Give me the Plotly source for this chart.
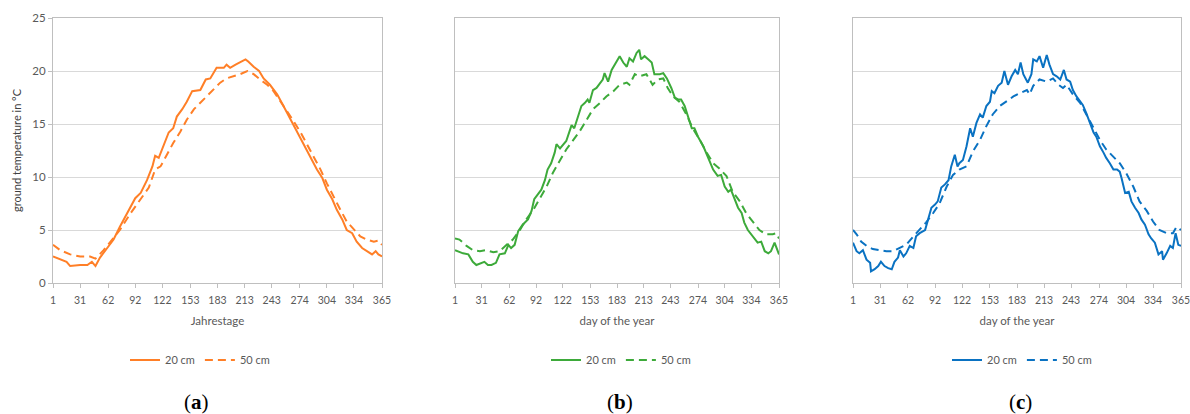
import plotly.graph_objects as go

# ---------------- data ----------------
days_a20 = [1,16,20,31,39,44,48,53,61,68,75,83,92,98,105,111,114,118,123,129,134,138,144,149,155,164,170,175,182,190,
            193,197,203,208,214,217,223,229,234,241,249,256,264,271,278,286,293,299,304,310,315,321,326,332,337,343,348,354,358,361,365]
temp_a20 = [2.5,2.0,1.6,1.7,1.7,2.0,1.6,2.4,3.3,4.1,5.3,6.6,8.0,8.5,9.7,11.0,12.0,11.8,12.9,14.2,14.6,15.7,16.4,17.1,18.1,18.2,19.2,19.3,20.3,20.3,
            20.6,20.3,20.6,20.8,21.1,20.9,20.4,20.0,19.3,18.7,17.8,16.7,15.4,14.3,13.2,11.9,10.7,9.9,8.8,7.9,6.9,6.0,5.0,4.7,3.9,3.3,3.0,2.7,3.0,2.7,2.5]

days_a50 = [1,9,20,31,42,48,57,64,75,87,98,107,114,120,127,134,142,149,157,164,171,179,186,193,201,208,216,223,230,238,
            245,253,260,267,275,282,289,297,304,311,319,326,334,341,348,356,361,365]
temp_a50 = [3.6,3.1,2.7,2.5,2.5,2.3,3.1,3.8,5.0,6.6,7.9,9.0,10.7,11.0,12.1,13.2,14.3,15.4,16.4,17.0,17.6,18.2,18.9,19.3,19.5,19.7,20.0,19.7,19.2,18.7,
            18.1,17.1,16.2,15.3,14.2,13.1,11.9,10.7,9.4,8.2,6.9,5.8,5.0,4.4,4.1,3.9,4.0,3.6]

days_b20 = [1,10,16,21,25,31,34,38,42,47,51,57,61,64,68,72,77,83,87,90,94,98,102,105,109,113,115,119,126,130,
            132,135,139,143,147,150,152,156,160,164,167,169,173,177,182,186,190,194,197,201,205,208,210,214,218,222,225,231,235,239,
            244,248,252,255,259,263,267,270,274,280,285,291,296,300,304,308,311,315,319,323,326,330,334,338,341,345,349,353,356,360,362,365]
temp_b20 = [3.1,2.8,2.7,2.0,1.7,1.9,2.0,1.7,1.7,1.9,2.7,2.8,3.6,3.3,3.6,4.9,5.5,6.0,6.8,7.9,8.3,8.8,9.7,10.7,11.3,12.3,13.1,12.7,13.4,14.3,
            14.9,14.6,15.6,16.7,17.0,17.3,17.0,18.2,18.4,18.9,19.2,19.8,19.0,20.1,20.8,21.4,20.8,20.4,21.2,20.9,21.7,22.0,21.1,21.4,21.1,20.8,19.7,19.7,19.8,19.3,
            18.4,17.5,17.3,17.3,16.7,15.7,14.6,14.6,13.8,12.9,11.9,10.7,10.1,10.2,9.1,8.6,8.8,7.9,7.1,6.6,5.7,5.0,4.6,4.1,3.8,3.9,3.0,2.8,3.0,3.8,3.3,2.7]

days_b50 = [1,6,14,21,29,36,44,51,59,66,74,81,89,96,104,111,119,126,134,141,149,156,164,171,179,186,194,197,203,208,
            216,223,229,235,240,246,253,261,268,276,283,291,298,306,313,321,328,336,343,350,358,362,365]
temp_b50 = [4.2,4.1,3.5,3.1,3.0,3.1,2.9,3.0,3.6,4.1,5.0,6.0,6.9,7.9,9.1,10.4,11.6,12.6,13.5,14.3,15.4,16.4,17.0,17.6,18.1,18.7,18.9,18.7,19.7,19.5,
            19.7,18.7,19.2,19.3,18.4,17.6,17.1,15.9,14.6,13.5,12.4,11.3,10.8,10.1,8.6,7.7,6.6,5.7,5.0,4.6,4.6,4.7,4.2]

days_c20 = [1,5,8,12,16,20,21,25,29,32,36,40,44,47,51,53,57,60,64,68,71,75,81,84,88,92,95,99,103,107,
            110,114,117,119,123,127,131,134,138,142,145,149,153,155,158,162,166,169,173,177,181,184,187,190,195,199,201,205,208,212,
            216,219,223,227,231,235,238,242,245,249,253,256,260,264,268,271,275,279,282,286,290,294,297,299,303,307,310,314,318,321,
            325,329,332,336,340,344,345,349,353,356,359,362,365]
temp_c20 = [3.8,3.0,2.8,3.1,2.2,1.9,1.1,1.3,1.6,2.0,1.6,1.4,1.3,2.0,2.4,3.1,2.5,2.8,3.5,3.3,4.4,4.7,5.0,5.8,7.1,7.4,7.7,9.0,9.3,9.7,
            11.0,12.1,11.0,11.3,11.6,12.9,14.6,13.8,15.1,15.9,15.6,16.7,17.1,18.1,17.9,18.6,18.9,20.0,18.7,19.5,20.1,19.7,20.8,19.7,18.9,19.7,21.1,20.9,21.4,20.3,
            21.5,20.6,19.7,19.5,19.2,20.1,19.2,19.0,18.2,17.6,17.1,16.8,16.0,15.1,14.2,13.8,12.9,12.3,11.8,11.3,10.7,10.7,10.5,9.9,8.5,8.6,7.7,7.1,6.6,6.0,
            5.5,4.6,4.2,3.8,2.7,3.0,2.2,2.8,3.5,3.3,4.7,3.6,3.5]

days_c50 = [1,5,10,16,23,31,38,45,53,60,68,75,82,90,97,105,112,119,127,134,142,149,156,164,171,179,186,194,197,201,
            208,216,223,229,234,238,245,253,260,268,275,282,290,297,304,312,319,327,334,341,349,356,360,365]
temp_c50 = [5.0,4.6,3.9,3.5,3.2,3.1,3.0,3.0,3.3,3.6,4.4,5.0,5.7,6.6,7.5,9.1,10.2,10.7,11.0,12.4,13.5,14.8,15.9,16.7,17.1,17.6,17.9,18.2,17.8,18.6,
            19.2,19.0,19.3,18.7,18.4,18.7,17.8,17.0,15.9,14.6,13.5,12.6,11.9,11.3,10.4,9.1,7.7,6.8,5.8,5.0,4.7,4.7,5.3,5.0]

x_ticks = [1, 31, 62, 92, 122, 153, 183, 213, 243, 274, 304, 334, 365]
y_ticks = [0, 5, 10, 15, 20, 25]
series_names = ["20 cm", "50 cm"]
x_titles = ["Jahrestage", "day of the year", "day of the year"]
y_title = "ground temperature in °C"
panel_labels = ["a", "b", "c"]

# ---------------- styling / layout ----------------
W, H = 1190, 414
colors = ["#FF7F27", "#3DAA3A", "#0A72C2"]
plot_px = [(53, 382), (455, 779), (853, 1181)]
legend_cx = [200, 621, 1022]
caption_cx = [196, 620, 1020]
top_px, bot_px = 18, 283
grid_col = "#D9D9D9"
axis_col = "#BFBFBF"
text_col = "#595959"
FONT = "Lato, Open Sans, sans-serif"

fig = go.Figure()
data = [
    ((days_a20, temp_a20), (days_a50, temp_a50)),
    ((days_b20, temp_b20), (days_b50, temp_b50)),
    ((days_c20, temp_c20), (days_c50, temp_c50)),
]
legend_ids = ["legend", "legend2", "legend3"]

for i, (s20, s50) in enumerate(data):
    xa = "x" if i == 0 else f"x{i+1}"
    ya = "y" if i == 0 else f"y{i+1}"
    for (d, t), name, dash in ((s20, series_names[0], "solid"), (s50, series_names[1], "8px,5px")):
        fig.add_trace(go.Scatter(
            x=d, y=t, mode="lines", name=name,
            line=dict(color=colors[i], width=2, dash=dash),
            xaxis=xa, yaxis=ya, legend=legend_ids[i], hoverinfo="skip",
        ))

layout = dict(
    width=W, height=H,
    margin=dict(l=0, r=0, t=0, b=0, autoexpand=False),
    paper_bgcolor="white", plot_bgcolor="white",
    showlegend=True,
    font=dict(family=FONT, color=text_col, size=11),
)

ydom = [1 - bot_px / H, 1 - top_px / H]
annotations = []
for i in range(3):
    xk = "xaxis" if i == 0 else f"xaxis{i+1}"
    yk = "yaxis" if i == 0 else f"yaxis{i+1}"
    ya_ref = "y" if i == 0 else f"y{i+1}"
    xa_ref = "x" if i == 0 else f"x{i+1}"
    x0, x1 = plot_px[i]
    layout[xk] = dict(
        domain=[x0 / W, x1 / W], range=[1, 365], anchor=ya_ref, automargin=False,
        tickvals=x_ticks, ticktext=[str(v) for v in x_ticks],
        showgrid=False, zeroline=False, ticklabeloverflow="allow",
        showline=True, linecolor=axis_col, linewidth=1, mirror=True,
        ticks="outside", ticklen=4, tickcolor=axis_col, ticklabelstandoff=3,
        tickfont=dict(size=10.5, color=text_col, family=FONT),
        title=dict(text=x_titles[i], font=dict(size=11.5, color=text_col, family=FONT), standoff=12),
    )
    layout[yk] = dict(
        domain=ydom, range=[0, 25], anchor=xa_ref, automargin=False,
        tickvals=y_ticks, showgrid=True, gridcolor=grid_col, gridwidth=1,
        zeroline=False, showline=True, linecolor=axis_col, linewidth=1, mirror=True,
        showticklabels=(i == 0),
        ticks="outside" if i == 0 else "", ticklen=4, tickcolor=axis_col,
        tickfont=dict(size=11.5, color=text_col, family=FONT),
        title=dict(text=y_title if i == 0 else "", font=dict(size=11, color="#404040", family=FONT), standoff=8),
    )
    lk = legend_ids[i]
    layout[lk] = dict(
        orientation="h", x=legend_cx[i] / W, xanchor="center",
        y=1 - 360 / H, yanchor="middle",
        font=dict(size=11, color=text_col, family=FONT),
        bgcolor="rgba(0,0,0,0)", itemwidth=30, tracegroupgap=0,
    )
    annotations.append(dict(
        text=f"(<b>{panel_labels[i]}</b>)", xref="paper", yref="paper",
        x=caption_cx[i] / W, y=1 - 402 / H, xanchor="center", yanchor="middle",
        showarrow=False, font=dict(family="Liberation Serif, serif", size=21, color="#000000"),
    ))

layout["annotations"] = annotations
fig.update_layout(**layout)
fig.write_html(
    "out.html",
    config={"displayModeBar": False},
    post_script="document.body.style.margin='0';document.body.style.padding='0';",
)
